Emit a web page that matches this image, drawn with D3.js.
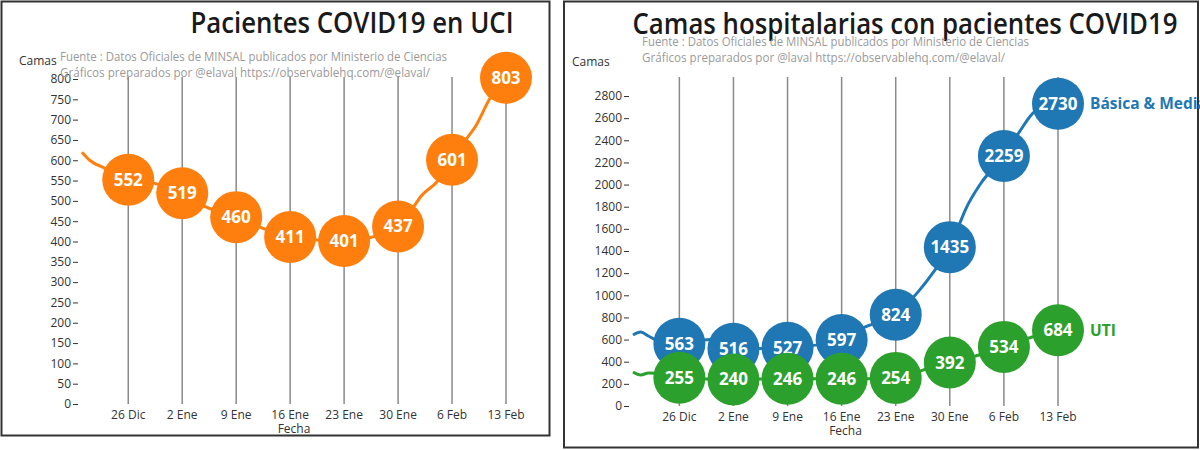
<!DOCTYPE html>
<html>
<head>
<meta charset="utf-8">
<script src="https://cdn.jsdelivr.net/npm/d3@7"></script>
<style>
  body { margin: 0; background: #fff; }
  svg text { font-family: "Open Sans", "Noto Sans", sans-serif; }
</style>
</head>
<body>
<div id="chart"></div>
<script>
// fechas semanales (eje x)
let fechas = ["2020-12-26", "2021-01-02", "2021-01-09", "2021-01-16", "2021-01-23", "2021-01-30", "2021-02-06", "2021-02-13"];
let fechaLabels = ["26 Dic", "2 Ene", "9 Ene", "16 Ene", "23 Ene", "30 Ene", "6 Feb", "13 Feb"];

// valores semanales
let uci = [552, 519, 460, 411, 401, 437, 601, 803];
let basicaMedia = [563, 516, 527, 597, 824, 1435, 2259, 2730];
let uti = [255, 240, 246, 246, 254, 392, 534, 684];

// trazos diarios
let uciTrazo = [["2020-12-20", 620], ["2020-12-21", 600], ["2020-12-23", 580], ["2020-12-26", 552], ["2020-12-29", 545],
  ["2021-01-02", 519], ["2021-01-05", 486], ["2021-01-09", 460], ["2021-01-16", 411], ["2021-01-23", 401],
  ["2021-01-30", 437], ["2021-02-01", 485], ["2021-02-02", 512], ["2021-02-04", 546], ["2021-02-06", 601],
  ["2021-02-08", 656], ["2021-02-09", 682], ["2021-02-11", 755], ["2021-02-13", 803]];
let basicaTrazo = [["2020-12-20", 641], ["2020-12-21", 668], ["2020-12-22", 632], ["2020-12-23", 595], ["2020-12-26", 563],
  ["2020-12-30", 600], ["2021-01-02", 516], ["2021-01-09", 527], ["2021-01-16", 597], ["2021-01-19", 713],
  ["2021-01-23", 824], ["2021-01-26", 1040], ["2021-01-28", 1220], ["2021-01-30", 1435], ["2021-01-31", 1600],
  ["2021-02-01", 1770], ["2021-02-03", 2010], ["2021-02-06", 2259], ["2021-02-08", 2475], ["2021-02-10", 2660],
  ["2021-02-13", 2730]];
let utiTrazo = [["2020-12-20", 307], ["2020-12-21", 280], ["2020-12-22", 298], ["2020-12-23", 295], ["2020-12-26", 255],
  ["2021-01-02", 240], ["2021-01-09", 246], ["2021-01-16", 246], ["2021-01-23", 254], ["2021-01-27", 334],
  ["2021-01-30", 392], ["2021-02-03", 465], ["2021-02-06", 534], ["2021-02-10", 630], ["2021-02-13", 684]];

let fuente1 = "Fuente : Datos Oficiales de MINSAL publicados por Ministerio de Ciencias";

let parse = d3.timeParse("%Y-%m-%d");
let inicio = parse("2020-12-20");
let fin = parse("2021-02-13");

let svg = d3.select("#chart").
append("svg").
attr("width", 1200).
attr("height", 450);

function panel(opt) {
  let g = svg.append("g");

  g.append("rect").
  attr("x", opt.box[0]).attr("y", opt.box[1]).
  attr("width", opt.box[2]).attr("height", opt.box[3]).
  attr("fill", "#fff").attr("stroke", "#333").attr("stroke-width", 2);

  let x = d3.scaleTime().domain([inicio, fin]).range(opt.xr);
  let y = d3.scaleLinear().domain([0, opt.ymax]).range(opt.yr);

  // lineas verticales
  g.selectAll(".grid").
  data(fechas).
  enter().
  append("line").
  attr("x1", d => x(parse(d))).attr("x2", d => x(parse(d))).
  attr("y1", 77).attr("y2", y(0)).
  attr("stroke", "#8a8a8a").attr("stroke-width", 1.5);

  // eje y
  let yAxis = d3.axisLeft(y).
  tickValues(d3.range(0, opt.ymax + 1, opt.ystep)).
  tickFormat(d3.format("d")).
  tickSize(5).tickPadding(2);
  let ya = g.append("g").attr("transform", "translate(" + (opt.xr[0] - 4) + ",0)").call(yAxis);
  ya.select(".domain").remove();
  ya.selectAll("text").attr("font-size", 12).attr("fill", "#333").style("font-family", "'Open Sans', sans-serif");
  ya.selectAll("line").attr("stroke", "#333");

  // etiquetas eje x
  g.selectAll(".xlab").
  data(fechas).
  enter().
  append("text").
  attr("x", d => x(parse(d))).
  attr("y", opt.xlabY).
  attr("text-anchor", "middle").
  attr("font-size", 12).attr("fill", "#333").
  text((d, i) => fechaLabels[i]);

  g.append("text").
  attr("x", (opt.xr[0] + opt.xr[1]) / 2).
  attr("y", opt.xlabY + 14).
  attr("text-anchor", "middle").
  attr("font-size", 12).attr("fill", "#333").
  text("Fecha");

  g.append("text").
  attr("x", opt.camas[0]).attr("y", opt.camas[1]).
  attr("font-size", 12).attr("fill", "#333").
  text("Camas");

  let line = d3.line().
  x(d => x(parse(d[0]))).
  y(d => y(d[1])).
  curve(d3.curveMonotoneX);

  opt.series.forEach(s => {
    g.append("path").
    attr("d", line(s.trazo)).
    attr("fill", "none").
    attr("stroke", s.color).
    attr("stroke-width", 3);

    let pts = g.append("g").selectAll("g").
    data(s.values).
    enter().
    append("g").
    attr("transform", (d, i) => "translate(" + x(parse(fechas[i])) + "," + y(d) + ")");

    pts.append("circle").attr("r", 26).attr("fill", s.color);
    pts.append("text").
    attr("text-anchor", "middle").
    attr("dy", "0.35em").
    attr("fill", "#fff").
    attr("font-weight", "bold").
    attr("font-size", 17).
    text(d => d);

    if (s.name) {
      g.append("text").
      attr("x", x(fin) + 32).
      attr("y", y(s.values[s.values.length - 1])).
      attr("dy", "0.35em").
      attr("fill", s.color).
      attr("font-weight", "bold").
      attr("font-size", 15.5).
      text(s.name);
    }
  });

  g.append("text").
  attr("x", opt.title[0]).attr("y", opt.title[1]).
  attr("text-anchor", "middle").
  attr("font-size", 28).attr("font-weight", 600).attr("fill", "#1a1a1a").
  attr("textLength", opt.title[2]).attr("lengthAdjust", "spacingAndGlyphs").
  text(opt.titulo);

  g.append("text").
  attr("x", opt.fuente[0]).attr("y", opt.fuente[1]).
  attr("font-size", 12).attr("fill", "#9a9a9a").
  attr("textLength", opt.fuente[2]).attr("lengthAdjust", "spacingAndGlyphs").
  text(fuente1);
  g.append("text").
  attr("x", opt.fuente[0]).attr("y", opt.fuente[1] + 16).
  attr("font-size", 12).attr("fill", "#9a9a9a").
  attr("textLength", opt.fuente[3]).attr("lengthAdjust", "spacingAndGlyphs").
  text(opt.fuente2);
}

panel({
  box: [1.5, 1.5, 548, 434],
  xr: [82, 506],
  yr: [404, 79],
  ymax: 800,
  ystep: 50,
  xlabY: 419,
  camas: [19, 65],
  title: [352, 33, 323],
  titulo: "Pacientes COVID19 en UCI",
  fuente: [60, 61, 387, 370],
  fuente2: "Gráficos preparados por @elaval https://observablehq.com/@elaval/",
  series: [{ values: uci, trazo: uciTrazo, color: "#ff7f0e" }]
});

panel({
  box: [564, 1.5, 634, 446],
  xr: [633, 1058],
  yr: [406, 96],
  ymax: 2800,
  ystep: 200,
  xlabY: 421,
  camas: [572, 66],
  title: [905, 34, 545],
  titulo: "Camas hospitalarias con pacientes COVID19",
  fuente: [642, 46, 387, 363],
  fuente2: "Gráficos preparados por @laval https://observablehq.com/@elaval/",
  series: [
    { values: basicaMedia, trazo: basicaTrazo, color: "#1f77b4", name: "Básica & Media" },
    { values: uti, trazo: utiTrazo, color: "#2ca02c", name: "UTI" }
  ]
});
</script>
</body>
</html>
